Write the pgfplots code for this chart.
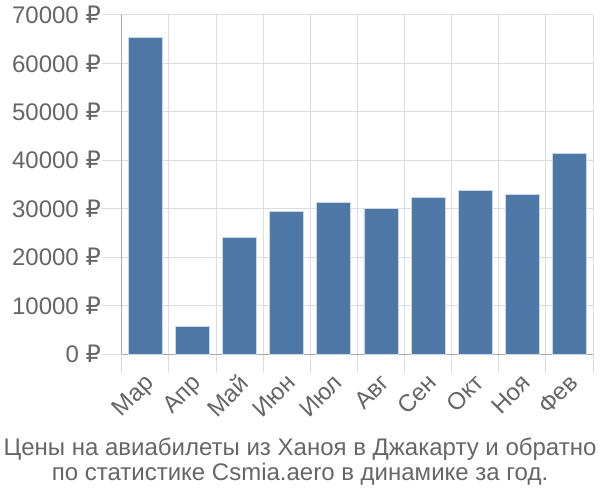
\documentclass[border=0pt]{standalone}
\usepackage{pgfplots}
\pgfplotsset{compat=1.18}
\usepackage{fontspec}
\setmainfont{Liberation Sans}
\newfontfamily\rubfont{DejaVu Sans}
\newcommand{\rub}{{\rubfont ₽}}
\definecolor{barblue}{HTML}{4E79A7}
\definecolor{txtgray}{HTML}{666666}
\definecolor{gridgray}{HTML}{DDDDDD}
\definecolor{axisgray}{HTML}{AAAAAA}
\begin{document}
\begin{tikzpicture}[x=0.75pt,y=0.75pt]
\useasboundingbox (0,0) rectangle (600,500);
\begin{axis}[
  at={(91.3pt,109.3pt)}, anchor=south west,
  scale only axis,
  width=353.5pt, height=254.5pt,
  xmin=-0.5, xmax=9.5,
  ymin=0, ymax=70000,
  scaled y ticks=false,
  ybar, bar width=25.5pt,
  xtick=data,
  xticklabels={Мар,Апр,Май,Июн,Июл,Авг,Сен,Окт,Ноя,Фев},
  minor xtick={-0.5,0.5,...,9.5},
  ytick={0,10000,...,70000},
  yticklabels={0 \rub,10000 \rub,20000 \rub,30000 \rub,40000 \rub,50000 \rub,60000 \rub,70000 \rub},
  ymajorgrids, xminorgrids,
  grid style={gridgray, line width=0.75pt},
  tick align=outside,
  major tick length=15pt, minor tick length=14pt,
  major x tick style={draw=none},
  minor x tick style={gridgray, line width=0.75pt},
  major y tick style={gridgray, line width=0.75pt},
  axis x line*=bottom, axis y line*=left,
  axis line style={axisgray, line width=1pt},
  tick label style={font=\fontsize{18pt}{21pt}\selectfont, text=txtgray},
  xticklabel style={rotate=45, anchor=north east, inner sep=0pt, yshift=2pt},
  yticklabel style={anchor=east, inner sep=0.5pt},
  clip=false,
]
\addplot[fill=barblue, draw=white!70!barblue, line width=0.6pt]
  coordinates {(0,65300) (1,5800) (2,24100) (3,29500) (4,31400)
               (5,30100) (6,32300) (7,33800) (8,32900) (9,41400)};
\end{axis}
\node[anchor=base, text=txtgray, font=\fontsize{18pt}{21pt}\selectfont, inner sep=0pt]
  at (300,45) {Цены на авиабилеты из Ханоя в Джакарту и обратно};
\node[anchor=base, text=txtgray, font=\fontsize{18pt}{21pt}\selectfont, inner sep=0pt]
  at (300,19) {по статистике Csmia.aero в динамике за год.};
\end{tikzpicture}
\end{document}
